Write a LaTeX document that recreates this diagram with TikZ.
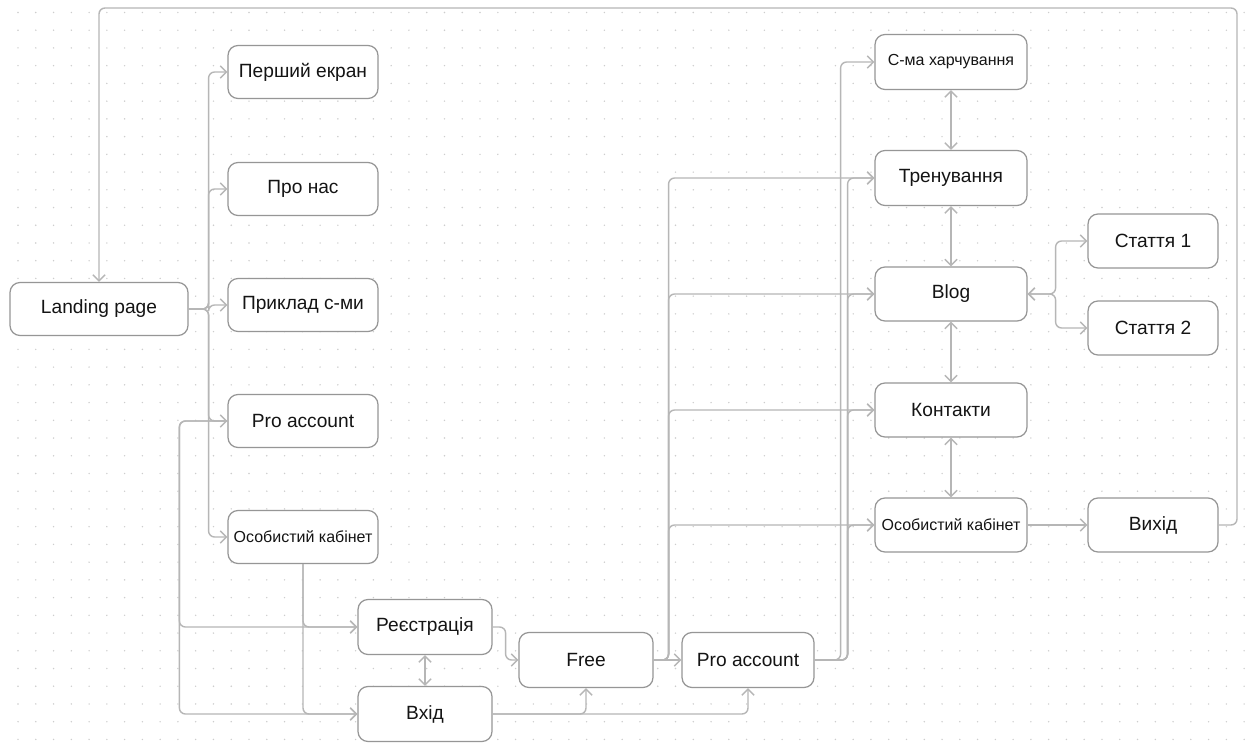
\documentclass[tikz,border=0pt]{standalone}
\usepackage{fontspec}
\setmainfont{Liberation Sans}
\usepackage{tikz}
\usetikzlibrary{arrows.meta}
\definecolor{linegray}{RGB}{182,182,182}
\definecolor{boxgray}{RGB}{150,150,150}
\definecolor{dotgray}{RGB}{205,205,205}
\definecolor{textblack}{RGB}{20,20,20}
\tikzstyle{page} = [rectangle, rounded corners=0.2cm, draw=boxgray, line width=0.7pt, fill=white, text=textblack, font=\fontsize{10.9}{13}\selectfont, minimum width=3cm, minimum height=1.06cm, inner sep=1pt]
\tikzstyle{small} = [font=\fontsize{9.1}{11}\selectfont]
\tikzstyle{link} = [draw=linegray, line width=0.8pt, rounded corners=0.12cm, -{Straight Barb[length=3.5pt,width=7pt]}]
\tikzstyle{both} = [link, {Straight Barb[length=3.5pt,width=7pt]}-{Straight Barb[length=3.5pt,width=7pt]}]

\begin{document}
\begin{tikzpicture}[x=0.02cm,y=-0.02cm]
\useasboundingbox (0,0) rectangle (1246,743);
\fill[white] (0,0) rectangle (1246,743);
\foreach \i in {0,...,69}
  \foreach \j in {0,...,41}
    \fill[dotgray] (18+\i*17.77,12.5+\j*17.73) circle[radius=0.45pt];

\node[page, minimum width=3.56cm] (lp) at (99,309) {Landing page};
\node[page] (first) at (303,72) {Перший екран};
\node[page] (about) at (303,189) {Про нас};
\node[page] (sample) at (303,305) {Приклад с-ми};
\node[page] (proL) at (303,421) {Pro account};
\node[page, small] (cabL) at (303,537) {Особистий кабінет};
\node[page, minimum width=2.68cm, minimum height=1.1cm] (reg) at (425,627) {Реєстрація};
\node[page, minimum width=2.68cm, minimum height=1.1cm] (login) at (425,714) {Вхід};
\node[page, minimum width=2.68cm, minimum height=1.1cm] (free) at (586,660) {Free};
\node[page, minimum width=2.64cm, minimum height=1.1cm] (proB) at (748,660) {Pro account};
\node[page, small, minimum width=3.04cm, minimum height=1.1cm] (food) at (951,62) {С-ма харчування};
\node[page, minimum width=3.04cm, minimum height=1.1cm] (train) at (951,178) {Тренування};
\node[page, minimum width=3.04cm, minimum height=1.08cm] (blog) at (951,294) {Blog};
\node[page, minimum width=3.04cm, minimum height=1.08cm] (contacts) at (951,410) {Контакти};
\node[page, small, minimum width=3.04cm, minimum height=1.08cm] (cabR) at (951,525) {Особистий кабінет};
\node[page, minimum width=2.6cm, minimum height=1.08cm] (art1) at (1153,241) {Стаття 1};
\node[page, minimum width=2.6cm, minimum height=1.08cm] (art2) at (1153,328) {Стаття 2};
\node[page, minimum width=2.6cm, minimum height=1.08cm] (exit) at (1153,525) {Вихід};
\coordinate (loop) at (1237,8);

\draw[link] (lp.east) -- ++(20,0) |- (first.west);
\draw[link] (lp.east) -- ++(20,0) |- (about.west);
\draw[link] (lp.east) -- ++(20,0) |- (sample.west);
\draw[link] (lp.east) -- ++(20,0) |- (proL.west);
\draw[link] (lp.east) -- ++(20,0) |- (cabL.west);

\draw[link] (proL.west) -- ++(-48,0) |- (reg.west);
\draw[link] (proL.west) -- ++(-48,0) |- (login.west);
\draw[link] (cabL.south) |- (reg.west);
\draw[link] (cabL.south) |- (login.west);
\draw[both] (reg) -- (login);

\draw[link] (reg.east) -- ++(13,0) |- (free.west);
\draw[link] (login.east) -| (free.south);
\draw[link] (login.east) -| (proB.south);
\draw[link] (free) -- (proB);

\draw[link] (free.east) -- ++(15,0) |- (train.west);
\draw[link] (free.east) -- ++(15,0) |- (blog.west);
\draw[link] (free.east) -- ++(15,0) |- (contacts.west);
\draw[link] (free.east) -- ++(15,0) |- (cabR.west);
\draw[link] (proB.east) -- ++(26,0) |- (food.west);
\draw[link] (proB.east) -- ++(33,0) |- (train.west);
\draw[link] (proB.east) -- ++(33,0) |- (blog.west);
\draw[link] (proB.east) -- ++(33,0) |- (contacts.west);
\draw[link] (proB.east) -- ++(33,0) |- (cabR.west);

\draw[both] (food) -- (train);
\draw[both] (train) -- (blog);
\draw[both] (blog) -- (contacts);
\draw[both] (contacts) -- (cabR);
\draw[both] (blog.east) -- ++(28,0) |- (art1.west);
\draw[both] (blog.east) -- ++(28,0) |- (art2.west);

\draw[link] (cabR) -- (exit);
\draw[link] (exit.east) -| (loop) -| (lp.north);
\end{tikzpicture}
\end{document}
